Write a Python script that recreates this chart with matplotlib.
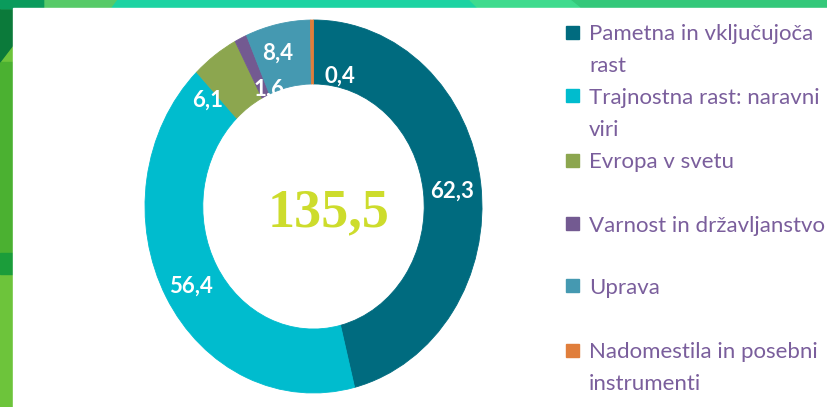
import numpy as np
import matplotlib.pyplot as plt
from matplotlib.patches import Rectangle, Polygon

# data
categories = ['Pametna in vključujoča\nrast',
              'Trajnostna rast: naravni\nviri',
              'Evropa v svetu',
              'Varnost in državljanstvo',
              'Uprava',
              'Nadomestila in posebni\ninstrumenti']
values = [62.3, 56.4, 6.1, 1.6, 8.4, 0.4]
total_label = '135,5'

colors = ['#006B7F', '#00BCCE', '#8CA64F', '#735A91', '#4599B1', '#E07E3B']
# nudges for the value labels (pixels, y up)
label_offsets = [(0, -4), (0, -5), (-24, -19), (16, -22), (-6, 2), (28, -24)]

W, H = 828, 407
fig = plt.figure(figsize=(W / 100, H / 100), dpi=100)

# background in pixel coordinates
bg = fig.add_axes([0, 0, 1, 1])
bg.set_xlim(0, W)
bg.set_ylim(H, 0)
bg.axis('off')
bg.add_patch(Rectangle((0, 0), 13, H, color='#6DC43B'))
bg.add_patch(Rectangle((0, 62), 13, 191, color='#4BB131'))
bg.add_patch(Rectangle((0, 253), 13, 21, color='#1B9D3A'))
bg.add_patch(Polygon([(0, 0), (13, 0), (13, 45), (0, 62)], color='#0B7A3A'))
bg.add_patch(Rectangle((0, 0), W, 8, color='#34C87A'))
bg.add_patch(Rectangle((0, 0), 45, 8, color='#0A9B5C'))
bg.add_patch(Polygon([(45, 0), (118, 0), (112, 8), (45, 8)], color='#57CA68'))
bg.add_patch(Polygon([(118, 0), (470, 0), (478, 8), (112, 8)], color='#1CD3A2'))
bg.add_patch(Polygon([(470, 0), (570, 0), (580, 8), (478, 8)], color='#3FDB8E'))
bg.add_patch(Rectangle((13, 8), W - 13, H - 8, color='white'))

# donut, stretched vertically like the source
ax = fig.add_axes([145 / W, (H - 393) / H, 337 / W, 373 / H])
wedges, _ = ax.pie(values, colors=colors, startangle=90, counterclock=False,
                   radius=1, wedgeprops=dict(width=0.343, linewidth=0.6))
for w in wedges:
    w.set_edgecolor(w.get_facecolor())
ax.set_aspect('auto')
ax.set_xlim(-1, 1)
ax.set_ylim(-1, 1)

for w, v, off in zip(wedges, values, label_offsets):
    mid = np.deg2rad((w.theta1 + w.theta2) / 2)
    r = 0.83
    ax.annotate(f'{v:.1f}'.replace('.', ','), (r * np.cos(mid), r * np.sin(mid)),
                xytext=off, textcoords='offset pixels', ha='center', va='center',
                color='white', fontsize=16, fontweight='bold', family='Lato')

bg.text(329, 226, total_label, ha='center', va='baseline', color='#CDDC2C',
        fontsize=39, fontweight='bold', family='Liberation Serif')

# legend
leg_y = [32, 95, 160, 223, 285, 350]
for cy, lab, c in zip(leg_y, categories, colors):
    bg.add_patch(Rectangle((566, cy - 6.5), 13, 13, color=c))
    for k, line in enumerate(lab.split('\n')):
        bg.text(589, cy + 8.5 + k * 32, line, ha='left', va='baseline',
                color='#7A5E9C', fontsize=16, family='Lato')

fig.savefig('out.png', dpi=100)
